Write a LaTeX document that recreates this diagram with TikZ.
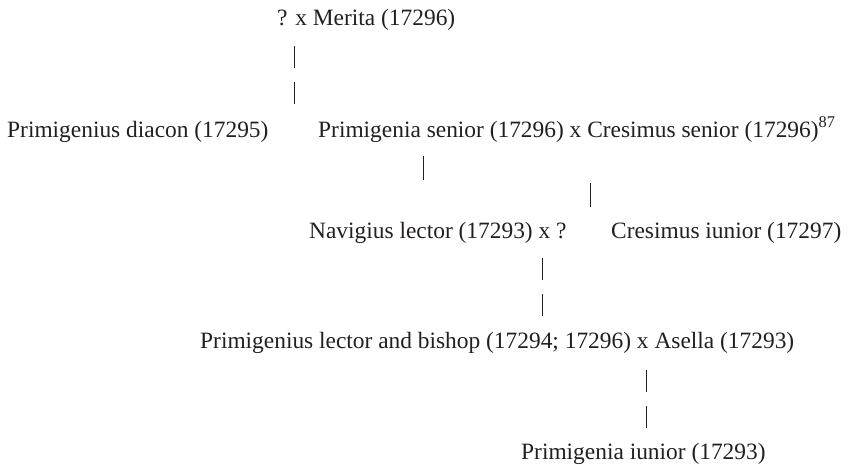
\documentclass[tikz,border=0pt]{standalone}
\usepackage{fontspec}
\setmainfont{Liberation Serif}
\usepackage{tikz}
\definecolor{ink}{HTML}{231F20}

\begin{document}
\begin{tikzpicture}[x=1pt,y=-1pt,font=\fontsize{23.4}{28}\selectfont,
  person/.style={anchor=base west,inner sep=0pt,text=ink},
  bar/.style={draw=ink,line width=0.9pt},
  barpair/.style={bar,dash pattern=on 22pt off 14pt}]
\useasboundingbox (0,0) rectangle (853,464);
% generations, top to bottom
\node[person] (merita) at (277,25) {? x Merita (17296)};
\node[person] (diacon) at (7,137) {Primigenius diacon (17295)};
\node[person] (senior) at (318,137) {Primigenia senior (17296) x Cresimus senior (17296)\textsuperscript{87}};
\node[person] (navigius) at (309,238) {Navigius lector (17293) x ?};
\node[person] (cresimus) at (611,238) {Cresimus iunior (17297)};
\node[person] (bishop) at (200,348) {Primigenius lector and bishop (17294; 17296) x Asella (17293)};
\node[person] (iunior) at (521,459) {Primigenia iunior (17293)};
% descent bars
\coordinate (merita-d) at (294,46);
\coordinate (senior-u) at (294,104);
\coordinate (senior-d) at (423,156);
\coordinate (navigius-u) at (423,180);
\coordinate (senior-d2) at (590,183);
\coordinate (cresimus-u) at (590,207);
\coordinate (navigius-d) at (542,258);
\coordinate (bishop-u) at (542,316);
\coordinate (bishop-d) at (646,370);
\coordinate (iunior-u) at (646,428);
\draw[barpair] (merita-d) -- (senior-u);
\draw[bar] (senior-d) -- (navigius-u);
\draw[bar] (senior-d2) -- (cresimus-u);
\draw[barpair] (navigius-d) -- (bishop-u);
\draw[barpair] (bishop-d) -- (iunior-u);
\end{tikzpicture}
\end{document}
